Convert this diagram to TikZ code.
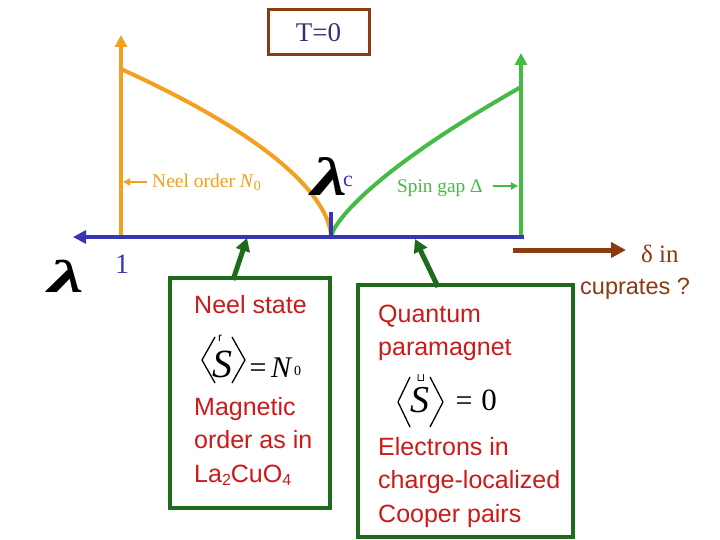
\documentclass[tikz,border=0pt]{standalone}
\usepackage{fontspec}
\usepackage{graphicx}
\setmainfont{Liberation Serif}
\newfontfamily\arialf{Liberation Sans}
\newfontfamily\djv{DejaVu Sans}
\usetikzlibrary{arrows.meta}
\definecolor{orgC}{HTML}{F2A01E}
\definecolor{grnC}{HTML}{44BB44}
\definecolor{dkgC}{HTML}{1E6B1E}
\definecolor{bluC}{HTML}{3535B5}
\definecolor{brnC}{HTML}{8B3A12}
\definecolor{redC}{HTML}{CC1A1A}
\definecolor{navC}{HTML}{333377}
\tikzset{
  bigtip/.style={-{Triangle[length=12pt,width=12pt]}},
  smalltip/.style={-{Triangle[length=7pt,width=7pt]}},
  boxtxt/.style={anchor=base west, inner sep=0pt, text=redC, font=\arialf\fontsize{25}{28}\selectfont},
  statebox/.style={draw=dkgC, line width=4.5pt, rectangle, inner sep=0pt},
  brk/.style={line width=1.3pt, line join=miter},
  mathtxt/.style={anchor=base, inner sep=0pt}
}
\begin{document}
\begin{tikzpicture}[x=1pt,y=-1pt]
\useasboundingbox (0,0) rectangle (720,540);
\fill[white] (0,0) rectangle (720,540);

% T=0 box
\node[draw=brnC, line width=3pt, minimum width=101pt, minimum height=45pt, inner sep=0pt,
      text=navC, font=\fontsize{27}{30}\selectfont] (tbox) at (318.5,32.5) {T=0};

% key coordinates
\coordinate (axR) at (524,237);
\coordinate (axL) at (73,237);
\coordinate (crit) at (331,237);
\coordinate (oBot) at (121,238);
\coordinate (oTop) at (121,35);
\coordinate (gBot) at (521,237);
\coordinate (gTop) at (521,53);

% orange order-parameter curve and axis
\draw[orgC, line width=4pt] (crit) -- plot[domain=0.03:1, samples=60, smooth]
   ({331-210*\x*\x},{237-168*(\x)^(1.14)});
\draw[orgC, line width=4pt, bigtip] (oBot) -- (oTop);

% green spin-gap curve and axis
\draw[grnC, line width=4pt] (crit) -- plot[domain=0.03:1, samples=60, smooth]
   ({331+190*\x*\x},{237-150*(\x)^(1.44)});
\draw[grnC, line width=4pt, bigtip] (gBot) -- (gTop);

% horizontal axis
\draw[bluC, line width=4pt, -{Triangle[length=13pt,width=13pt]}] (axR) -- (axL);
\coordinate (tickTop) at (331,212);
\draw[bluC, line width=4pt] (crit) -- (tickTop);

% labels on the axis
\node[text=bluC, font=\fontsize{28}{30}\selectfont, anchor=base, inner sep=0pt] (one) at (122,273) {1};
\node[font=\bfseries\itshape\fontsize{46}{48}\selectfont, anchor=base, inner sep=0pt, xscale=1.75] (lamL) at (66,292) {λ};
\node[anchor=base east, inner sep=0pt] (lamC) at (353,196)
  {\scalebox{1.5}[1]{\bfseries\itshape\fontsize{54}{56}\selectfont λ}\kern-4pt\raisebox{9pt}{\color{bluC}\fontsize{22}{24}\selectfont c}};

% Neel order label
\node[text=orgC, font=\fontsize{19.5}{21}\selectfont, anchor=base west, inner sep=0pt] (neelLab) at (152,188) {Neel order \textit{N}\raisebox{-0.25ex}{\fontsize{14}{15}\selectfont 0}};
\coordinate (neelArrS) at (147,182);
\coordinate (neelArrE) at (123,182);
\draw[orgC, line width=2pt, smalltip] (neelArrS) -- (neelArrE);

% Spin gap label
\node[text=grnC, font=\fontsize{19.3}{21}\selectfont, anchor=base west, inner sep=0pt] (gapLab) at (397,193) {Spin gap Δ};
\coordinate (gapArrS) at (493,186);
\coordinate (gapArrE) at (518,186);
\draw[grnC, line width=2pt, smalltip] (gapArrS) -- (gapArrE);

% doping arrow
\coordinate (dS) at (513,250);
\coordinate (dE) at (626,250);
\draw[brnC, line width=5pt, -{Triangle[length=15pt,width=15pt]}] (dS) -- (dE);
\node[text=brnC, font=\fontsize{25}{28}\selectfont, anchor=base west, inner sep=0pt] (din) at (641,262) {δ in};
\node[text=brnC, font=\arialf\fontsize{23.5}{28}\selectfont, anchor=base west, inner sep=0pt] (cupr) at (580,294) {cuprates ?};

% boxes
\node[statebox, minimum width=160pt, minimum height=230pt] (box1) at (250,393) {};
\node[statebox, minimum width=215pt, minimum height=252pt] (box2) at (465.5,411) {};

% box arrows
\coordinate (b1top) at (233,280);
\coordinate (b1tip) at (247,238);
\coordinate (b2top) at (438,287);
\coordinate (b2tip) at (415,239);
\draw[dkgC, line width=5pt, -{Triangle[length=13pt,width=14pt]}] (b1top) -- (b1tip);
\draw[dkgC, line width=5pt, -{Triangle[length=13pt,width=14pt]}] (b2top) -- (b2tip);

% box 1 text
\node[boxtxt] (t11) at (194,313) {Neel state};
\draw[brk] (215,337) -- (202,360) -- (215,383);
\draw[brk] (232,337) -- (245,360) -- (232,383);
\node[mathtxt, font=\itshape\fontsize{40}{42}\selectfont] (s1) at (222,377) {S};
\node[mathtxt, font=\arialf\fontsize{12}{12}\selectfont] (r1) at (220,341) {r};
\node[mathtxt, font=\fontsize{30}{30}\selectfont] (eq1) at (258,377) {=};
\node[anchor=base west, inner sep=0pt, font=\itshape\fontsize{30}{30}\selectfont] (n1) at (271,377) {N};
\node[anchor=base west, inner sep=0pt, font=\fontsize{14}{15}\selectfont] (z1) at (294,375) {0};
\node[boxtxt] (t12) at (194,415) {Magnetic};
\node[boxtxt] (t13) at (194,448) {order as in};
\node[boxtxt] (t14) at (194,482) {La\raisebox{-0.3ex}{\fontsize{16}{17}\selectfont 2}CuO\raisebox{-0.3ex}{\fontsize{16}{17}\selectfont 4}};

% box 2 text
\node[boxtxt] (t21) at (378,322) {Quantum};
\node[boxtxt] (t22) at (378,355) {paramagnet};
\draw[brk] (410,377) -- (398,402) -- (410,427);
\draw[brk] (430,377) -- (443,402) -- (430,427);
\node[mathtxt, font=\itshape\fontsize{38}{40}\selectfont] (s2) at (420,412) {S};
\node[mathtxt, font=\djv\fontsize{11}{11}\selectfont] (u2) at (421,381) {⊔};
\node[mathtxt, font=\fontsize{30}{32}\selectfont] (eq2) at (464,410) {=};
\node[mathtxt, font=\fontsize{31}{32}\selectfont] (z2) at (489,410) {0};
\node[boxtxt] (t23) at (378,455) {Electrons in};
\node[boxtxt] (t24) at (378,488) {charge-localized};
\node[boxtxt] (t25) at (378,522) {Cooper pairs};
\end{tikzpicture}
\end{document}
